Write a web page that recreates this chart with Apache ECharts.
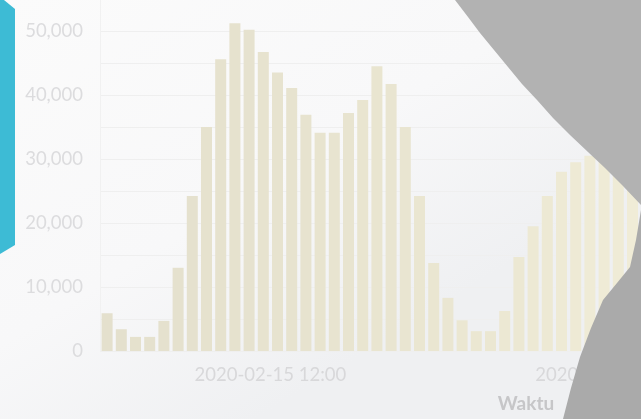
<!DOCTYPE html>
<html>
<head>
<meta charset="utf-8">
<script src="https://cdn.jsdelivr.net/npm/echarts@6/dist/echarts.min.js"></script>
<style>
html,body{margin:0;padding:0;background:#fafafa;}
#chart{width:641px;height:419px;}
</style>
</head>
<body>
<div id="chart"></div>
<script>
// Hourly counts starting 2020-02-15 00:00 (one bar per hour)
const hourLabels = [
  '02-15 00','02-15 01','02-15 02','02-15 03','02-15 04','02-15 05','02-15 06','02-15 07',
  '02-15 08','02-15 09','02-15 10','02-15 11','02-15 12','02-15 13','02-15 14','02-15 15',
  '02-15 16','02-15 17','02-15 18','02-15 19','02-15 20','02-15 21','02-15 22','02-15 23',
  '02-16 00','02-16 01','02-16 02','02-16 03','02-16 04','02-16 05','02-16 06','02-16 07',
  '02-16 08','02-16 09','02-16 10','02-16 11','02-16 12','02-16 13','02-16 14','02-16 15'
];
const counts = [
  5900, 3400, 2200, 2200, 4700, 13000, 24200, 35000,
  45600, 51200, 50200, 46700, 43500, 41100, 36900, 34100,
  34100, 37200, 39200, 44500, 41700, 35000, 24200, 13750,
  8300, 4800, 3100, 3100, 6250, 14700, 19500, 24200,
  28000, 29500, 30500, 30000, 28500, 27000, 25000, 23000
];
const xTickHours = [12, 36];
const xTickLabels = ['2020-02-15 12:00', '2020-02-16 12:00'];

const chart = echarts.init(document.getElementById('chart'), null, {renderer: 'canvas'});
const barData = counts.map((v, i) => [i + 0.5, v]);

chart.setOption({
  animation: false,
  backgroundColor: {
    type: 'linear', x: 0, y: 0, x2: 0.4, y2: 1,
    colorStops: [{offset: 0, color: '#fbfbfb'}, {offset: 0.6, color: '#f8f8f9'}, {offset: 1, color: '#eff0f2'}]
  },
  grid: {left: 100, top: -1, width: 852, height: 352, containLabel: false, outerBoundsMode: 'none'},
  visualMap: {
    show: false, type: 'continuous', dimension: 0, min: 0, max: 40, seriesIndex: 0,
    inRange: {color: ['#e4e0cd', '#e7e3cf', '#ebe7d2', '#f1edd8']}
  },
  xAxis: {
    type: 'value', min: 0, max: 60,
    name: 'Waktu', nameLocation: 'middle', nameGap: 43,
    nameTextStyle: {color: '#c6c6c8', fontSize: 19, fontWeight: 'bold', fontFamily: 'Lato'},
    axisLine: {show: false},
    axisTick: {show: false},
    splitLine: {show: false},
    axisLabel: {
      customValues: xTickHours,
      formatter: v => { const k = xTickHours.indexOf(v); return k >= 0 ? xTickLabels[k] : ''; },
      color: '#d8d8da', fontSize: 18.5, fontFamily: 'Lato', margin: 15
    }
  },
  yAxis: {
    type: 'value', min: 0, max: 55000, interval: 5000,
    axisLine: {show: true, lineStyle: {color: '#f1f1f1'}},
    axisTick: {show: false},
    splitLine: {lineStyle: {color: '#efefef', width: 1}},
    axisLabel: {
      formatter: v => v % 10000 === 0 ? v.toLocaleString('en-US') : '',
      color: '#dcdcde', fontSize: 18.5, fontFamily: 'Lato', margin: 17
    }
  },
  series: [{
    type: 'bar', data: barData, barWidth: 11,
    itemStyle: {color: '#e8e4d0'}
  }],
  graphic: [
    {type: 'polygon', z: 100, shape: {points: [[0,0],[4,0],[15,9],[15,245],[0,254]]}, style: {fill: '#3dbbd5'}},
    {type: 'polygon', z: 100, shape: {points: [[455,0],[468,17],[480,33],[494,50],[508,67],[522,84],[537,100],[553,118],[570,135],[588,152],[605,168],[623,186],[641,205],[641,0]]}, style: {fill: '#b2b2b2'}},
    {type: 'polygon', z: 100, shape: {points: [[641,210],[636,240],[630,267],[617,283],[603,300],[591,328],[580,357],[571,388],[563,419],[641,419]]}, style: {fill: '#aaaaaa'}}
  ]
});
</script>
</body>
</html>
